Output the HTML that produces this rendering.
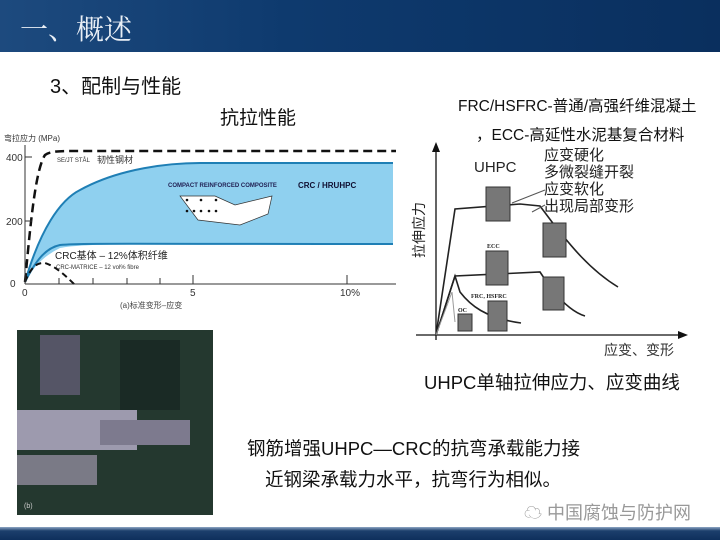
<!DOCTYPE html>
<html><head><meta charset="utf-8"><style>
body{margin:0;width:720px;height:540px;overflow:hidden;background:#fff;font-family:"Liberation Sans","Noto Sans CJK SC",sans-serif;position:relative}
.t{position:absolute;white-space:nowrap;color:#111}
</style></head><body>
<div style="position:absolute;left:0;top:0;width:720px;height:52px;background:linear-gradient(90deg,#1d4a7e,#0e3a6e 40%,#0a2f5e);"></div>
<div class="t" style="left:20px;top:8px;font-size:28px;color:#e8eef5;font-family:'Noto Serif CJK SC',serif">一、概述</div>
<div style="position:absolute;left:0;top:527px;width:720px;height:13px;background:linear-gradient(#8ea6c4,#1c3f6c 30%,#0e2f5c)"></div>
<div class="t" style="left:50px;top:70px;font-size:20px">3、配制与性能</div>
<div class="t" style="left:220px;top:103px;font-size:19px">抗拉性能</div>
<div class="t" style="left:458px;top:94px;font-size:15.5px">FRC/HSFRC-普通/高强纤维混凝土</div>
<div class="t" style="left:476px;top:123px;font-size:15.5px">，ECC-高延性水泥基复合材料</div>
<div class="t" style="left:424px;top:369px;font-size:18.5px">UHPC单轴拉伸应力、应变曲线</div>
<div class="t" style="left:247px;top:435px;font-size:18.5px">钢筋增强UHPC—CRC的抗弯承载能力接</div>
<div class="t" style="left:265px;top:466px;font-size:18.5px">近钢梁承载力水平，抗弯行为相似。</div>
<div class="t" style="left:524px;top:499px;font-size:18px;color:#999">☁ 中国腐蚀与防护网</div>
<svg width="720" height="540" style="position:absolute;left:0;top:0">
<text x="4" y="141" font-size="8" fill="#333">弯拉应力 (MPa)</text>
<path d="M25,282 C40,230 60,200 80,190 C120,168 170,163 200,163 L393,163 L393,244 L200,244 C120,244 80,244 60,248 C40,258 32,270 25,282Z" fill="#8fd0ef"/>
<path d="M25,282 C40,230 60,200 80,190 C120,168 170,163 200,163 L393,163" fill="none" stroke="#1f7fb5" stroke-width="2"/>
<path d="M25,282 C35,262 45,248 60,245 C80,243 120,244 393,244" fill="none" stroke="#1f7fb5" stroke-width="2"/>
<path d="M25,282 C30,230 35,170 45,155 C50,151 60,151 80,151 L396,151" fill="none" stroke="#111" stroke-width="2.5" stroke-dasharray="9,5"/>
<path d="M25,282 C30,270 35,262 45,263 C55,266 65,275 75,285" fill="none" stroke="#111" stroke-width="2" stroke-dasharray="6,4"/>
<line x1="25" y1="145" x2="25" y2="284" stroke="#333"/>
<line x1="25" y1="284" x2="396" y2="284" stroke="#333"/>
<g stroke="#333"><line x1="59" y1="278" x2="59" y2="284"/><line x1="93" y1="278" x2="93" y2="284"/><line x1="127" y1="278" x2="127" y2="284"/><line x1="160" y1="278" x2="160" y2="284"/><line x1="193" y1="275" x2="193" y2="284"/><line x1="347" y1="275" x2="347" y2="284"/><line x1="25" y1="157" x2="32" y2="157"/><line x1="25" y1="221" x2="32" y2="221"/></g>
<g font-size="10" fill="#333"><text x="6" y="161">400</text><text x="6" y="225">200</text><text x="10" y="287">0</text><text x="22" y="296">0</text><text x="190" y="296">5</text><text x="340" y="296">10%</text></g>
<text x="120" y="308" font-size="8" fill="#444">(a)标准变形–应变</text>
<text x="57" y="162" font-size="6" fill="#333">SE/JT STÅL</text><text x="97" y="163" font-size="9" fill="#333">韧性钢材</text>
<text x="168" y="187" font-size="6" fill="#225" font-weight="bold">COMPACT REINFORCED COMPOSITE</text>
<text x="298" y="188" font-size="8" fill="#113" font-weight="bold">CRC / HRUHPC</text>
<path d="M180,196 L215,196 L235,205 L272,196 L268,214 L240,225 L198,220Z" fill="#fff" stroke="#333" stroke-width="0.7"/>
<g fill="#111"><circle cx="187" cy="200" r="1.3"/><circle cx="201" cy="200" r="1.3"/><circle cx="216" cy="200" r="1.3"/><circle cx="187" cy="211" r="1.3"/><circle cx="194" cy="211" r="1.3"/><circle cx="201" cy="211" r="1.3"/><circle cx="209" cy="211" r="1.3"/><circle cx="216" cy="211" r="1.3"/></g>
<text x="55" y="259" font-size="10" fill="#222">CRC基体 – 12%体积纤维</text>
<text x="56" y="269" font-size="6" fill="#333">CRC-MATRICE – 12 vol% fibre</text>
<line x1="436" y1="340" x2="436" y2="150" stroke="#111" stroke-width="1.3"/><path d="M432,152 L436,142 L440,152Z" fill="#111"/>
<line x1="416" y1="335" x2="680" y2="335" stroke="#111" stroke-width="1.3"/><path d="M678,331 L688,335 L678,339Z" fill="#111"/>
<text x="424" y="230" font-size="14" fill="#222" transform="rotate(-90 424 230)" text-anchor="middle">拉伸应力</text>
<text x="604" y="355" font-size="14" fill="#333">应变、变形</text>
<g fill="none" stroke="#222" stroke-width="1.6">
<path d="M436,335 L455,209 L520,204 L540,206 L552,222 C570,245 590,270 618,287"/>
<path d="M436,335 L455,276 L540,272 L552,290 C565,305 575,313 585,316"/>
<path d="M436,335 L455,276 L460,292 C470,305 485,318 521,323"/>
<path d="M436,335 L452,292 L455,322" stroke="#999" stroke-width="1"/>
</g>
<g fill="#777" stroke="#333"><rect x="486" y="187" width="24" height="34"/><rect x="543" y="223" width="23" height="34"/><rect x="486" y="251" width="22" height="34"/><rect x="543" y="277" width="21" height="33"/><rect x="488" y="301" width="19" height="30"/><rect x="458" y="314" width="14" height="17"/></g>
<g font-size="6" font-family="Liberation Serif" font-weight="bold" fill="#222"><text x="487" y="248">ECC</text><text x="471" y="298">FRC, HSFRC</text><text x="458" y="312">OC</text></g>
<text x="474" y="172" font-size="15" fill="#222">UHPC</text>
<g font-size="15" fill="#222"><text x="544" y="160">应变硬化</text><text x="544" y="177">多微裂缝开裂</text><text x="544" y="194">应变软化</text><text x="544" y="211">出现局部变形</text></g>
<line x1="545" y1="190" x2="512" y2="203" stroke="#555"/><line x1="545" y1="205" x2="532" y2="212" stroke="#555"/>
<rect x="17" y="330" width="196" height="185" fill="#24382f"/>
<rect x="40" y="335" width="40" height="60" fill="#556"/>
<rect x="17" y="410" width="120" height="40" fill="#9d9aae"/>
<rect x="100" y="420" width="90" height="25" fill="#7d7a8e"/>
<rect x="17" y="455" width="80" height="30" fill="#7a7a86"/>
<rect x="120" y="340" width="60" height="70" fill="#1a2a25"/>
<text x="24" y="508" font-size="7" fill="#ccc">(b)</text>
</svg>
</body></html>
